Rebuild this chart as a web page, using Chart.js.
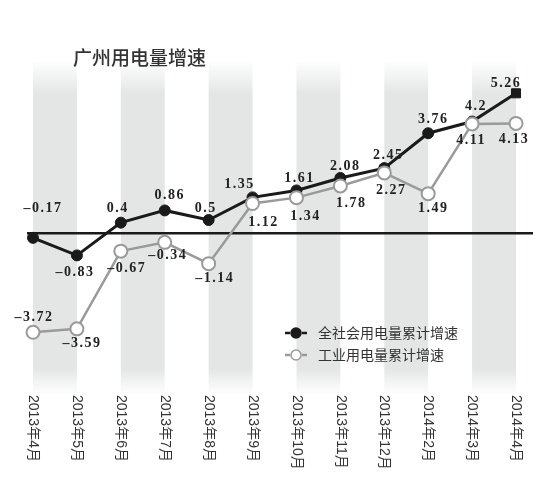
<!DOCTYPE html>
<html>
<head>
<meta charset="utf-8">
<script src="https://cdn.jsdelivr.net/npm/chart.js@4.4.1/dist/chart.umd.min.js"></script>
<style>
html, body { margin: 0; padding: 0; background: #fff; }
</style>
</head>
<body>
<canvas id="graph" width="540" height="493"></canvas>
<script>
const titre = "广州用电量增速";
const mois = ["2013年4月", "2013年5月", "2013年6月", "2013年7月", "2013年8月", "2013年9月",
    "2013年10月", "2013年11月", "2013年12月", "2014年2月", "2014年3月", "2014年4月"];
const nomsSeries = ["全社会用电量累计增速", "工业用电量累计增速"];
const totalSociete = [-0.17, -0.83, 0.4, 0.86, 0.5, 1.35, 1.61, 2.08, 2.45, 3.76, 4.2, 5.26];
const industrie = [-3.72, -3.59, -0.67, -0.34, -1.14, 1.12, 1.34, 1.78, 2.27, 1.49, 4.11, 4.13];

/* décalage des étiquettes (px) par rapport au point */
const decalTotal = [[9, -29], [-3, 17], [-4, -14], [4, -15], [-4, -12], [-14, -13],
    [2, -12], [4, -12], [3, -13], [4, -14], [3, -15], [-11, -10]];
const decalIndus = [[0, -15], [4, 15], [5, 17], [2, 13], [5, 15], [10, 19],
    [8, 19], [10, 17], [6, 17], [4, 15], [-2, 16], [-3, 16]];

const noir = "#1a1a1a";
const gris = "#9a9a9a";

const decor = {
    id: 'decor',
    beforeDatasetsDraw(chart) {
        const ctx = chart.ctx;
        const x = chart.scales.x;
        const y = chart.scales.y;
        /* bandes grises */
        for (let i = 0; i < mois.length - 1; i += 2) {
            const x1 = x.getPixelForValue(i);
            const x2 = x.getPixelForValue(i + 1);
            const grad = ctx.createLinearGradient(0, 60, 0, 395);
            grad.addColorStop(0, "rgba(228,230,230,0)");
            grad.addColorStop(0.1, "rgba(228,230,230,1)");
            grad.addColorStop(0.92, "rgba(228,230,230,1)");
            grad.addColorStop(1, "rgba(228,230,230,0)");
            ctx.fillStyle = grad;
            ctx.fillRect(x1, 60, x2 - x1, 335);
        }
        /* ligne du zéro */
        const y0 = y.getPixelForValue(0);
        ctx.save();
        ctx.strokeStyle = noir;
        ctx.lineWidth = 2.5;
        ctx.beginPath();
        ctx.moveTo(chart.chartArea.left - 6, y0);
        ctx.lineTo(chart.chartArea.right + 17, y0);
        ctx.stroke();
        ctx.restore();
    },
    afterDatasetsDraw(chart) {
        const ctx = chart.ctx;
        const x = chart.scales.x;
        ctx.save();
        /* titre */
        ctx.fillStyle = "#333";
        ctx.font = "500 19px 'Noto Sans CJK SC'";
        ctx.textAlign = "left";
        ctx.textBaseline = "middle";
        ctx.fillText(titre, 73, 58);

        /* étiquettes des valeurs */
        ctx.font = "bold 14px 'Liberation Serif'";
        ctx.letterSpacing = "1.5px";
        ctx.textAlign = "center";
        ctx.fillStyle = "#222";
        const series = [[totalSociete, decalTotal, 0], [industrie, decalIndus, 1]];
        for (const [vals, decal, idx] of series) {
            const meta = chart.getDatasetMeta(idx);
            vals.forEach((v, i) => {
                const pt = meta.data[i];
                ctx.fillText(String(v).replace("-", "–"), pt.x + decal[i][0] + 1, pt.y + decal[i][1]);
            });
        }
        ctx.letterSpacing = "0px";

        /* mois verticaux */
        ctx.font = "14px 'Liberation Sans', 'Noto Sans CJK SC'";
        ctx.fillStyle = "#333";
        mois.forEach((m, i) => {
            ctx.save();
            ctx.translate(x.getPixelForValue(i), 395);
            ctx.rotate(Math.PI / 2);
            ctx.textAlign = "left";
            ctx.textBaseline = "middle";
            ctx.fillText(m, 0, 0);
            ctx.restore();
        });

        /* légende */
        const couleurs = [noir, gris];
        nomsSeries.forEach((nom, i) => {
            const ly = 333 + i * 22;
            ctx.strokeStyle = couleurs[i];
            ctx.lineWidth = 2.5;
            ctx.beginPath();
            ctx.moveTo(285, ly);
            ctx.lineTo(290, ly);
            ctx.moveTo(302, ly);
            ctx.lineTo(307, ly);
            ctx.stroke();
            ctx.beginPath();
            ctx.arc(296, ly, 5, 0, Math.PI * 2);
            ctx.fillStyle = i == 0 ? noir : "#fff";
            ctx.fill();
            ctx.lineWidth = 1.5;
            ctx.stroke();
            ctx.fillStyle = "#333";
            ctx.font = "14px 'Noto Sans CJK SC'";
            ctx.textAlign = "left";
            ctx.textBaseline = "middle";
            ctx.fillText(nom, 318, ly);
        });
        ctx.restore();
    }
};

const styles1 = mois.map((m, i) => i == mois.length - 1 ? 'rect' : 'circle');
const rayons1 = mois.map((m, i) => i == mois.length - 1 ? 6.4 : 5.5);

const graph = new Chart(document.getElementById('graph'), {
    type: 'line',
    data: {
        labels: mois,
        datasets: [
            {
                label: nomsSeries[0],
                data: totalSociete,
                borderColor: noir,
                backgroundColor: noir,
                borderWidth: 3,
                pointStyle: styles1,
                pointRadius: rayons1,
                pointBackgroundColor: noir,
                pointBorderColor: noir,
                pointBorderWidth: 1,
                order: 2
            },
            {
                label: nomsSeries[1],
                data: industrie,
                borderColor: gris,
                backgroundColor: "#fff",
                borderWidth: 2.5,
                pointRadius: 6.5,
                pointBackgroundColor: "#fff",
                pointBorderColor: gris,
                pointBorderWidth: 2,
                order: 1
            }
        ]
    },
    options: {
        responsive: false,
        animation: false,
        layout: { padding: { left: 33, right: 24, top: 47, bottom: 0 } },
        scales: {
            x: {
                offset: false,
                grid: { display: false },
                border: { display: false },
                ticks: { display: false },
                afterFit: s => { s.height = 100 }
            },
            y: { display: false, min: -6, max: 7 }
        },
        plugins: {
            legend: { display: false },
            tooltip: { enabled: false }
        }
    },
    plugins: [decor]
});
</script>
</body>
</html>
